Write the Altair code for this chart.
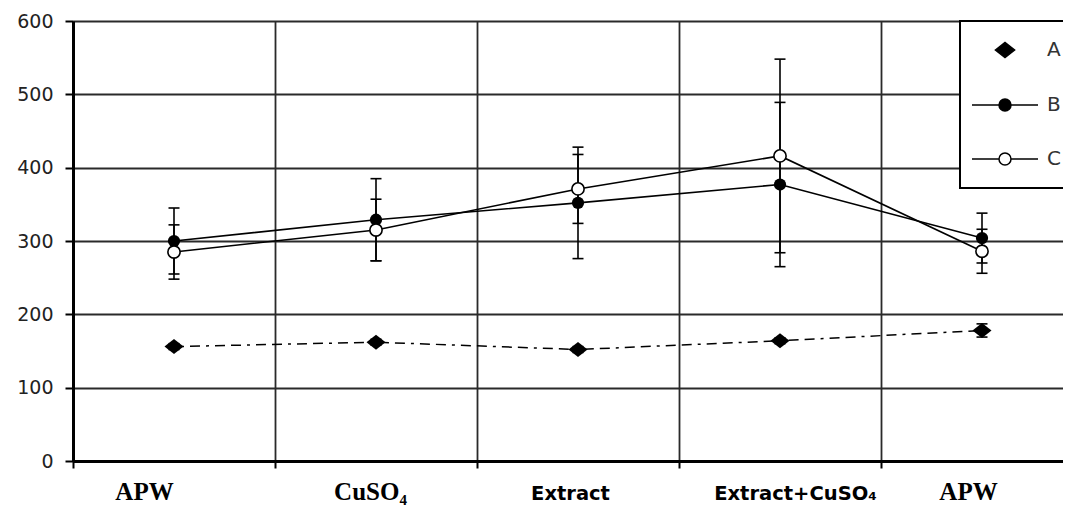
import altair as alt
import pandas as pd

# ---- data ----
categories = ["APW", "CuSO₄", "Extract", "Extract+CuSO₄", "APW"]
series_names = ["A", "B", "C"]
a_values = [156, 162, 152, 164, 178]
a_errors = [4, 4, 4, 4, 9]
b_values = [300, 329, 352, 377, 304]
b_errors = [45, 56, 76, 112, 34]
c_values = [285, 315, 371, 416, 286]
c_errors = [37, 42, 47, 132, 30]
y_ticks = [0, 100, 200, 300, 400, 500, 600]

rows = []
for name, vals, errs in zip(series_names, [a_values, b_values, c_values],
                            [a_errors, b_errors, c_errors]):
    for i, (v, e) in enumerate(zip(vals, errs)):
        rows.append({"series": name, "pos": i, "value": v, "lo": v - e, "hi": v + e})
df = pd.DataFrame(rows)

label_list = "[" + ",".join("'" + c + "'" for c in categories) + "]"
sans_test = "(toNumber(datum.value) == 2 || toNumber(datum.value) == 3)"

x_scale = alt.Scale(domain=list(range(len(categories))), range=[0, 1010],
                    paddingInner=0, paddingOuter=0)
x_axis = alt.Axis(
    title=None, tickBand="extent", grid=True, gridColor="#2a2a2a", gridWidth=1.8,
    domainColor="black", domainWidth=3, tickColor="black", tickWidth=2, tickSize=7,
    labelExpr=label_list + "[toNumber(datum.value)]",
    labelAngle=0, labelAlign="center", labelBaseline="alphabetic",
    labelPadding=31, labelColor="black", labelFontWeight="bold",
    labelFont={"expr": sans_test + " ? 'DejaVu Sans' : 'Liberation Serif'"},
    labelFontSize={"expr": sans_test + " ? 19.5 : 25"},
    labelOffset={"expr": "[-30, -6, -8, 15, -14][toNumber(datum.value)]"},
)
y_scale = alt.Scale(domain=[0, 600], nice=False, zero=True)
y_axis = alt.Axis(
    title=None, values=y_ticks, grid=True, gridColor="#2a2a2a", gridWidth=1.8,
    domainColor="black", domainWidth=3, tickColor="black", tickWidth=2, tickSize=8,
    labelFont="DejaVu Sans", labelFontSize=19, labelColor="#222", labelPadding=12,
)

X = alt.X("pos:O", scale=x_scale, axis=x_axis)

base = alt.Chart(df)

lines_bc = base.transform_filter("datum.series != 'A'").mark_line(
    color="black", strokeWidth=1.6
).encode(x=X, y=alt.Y("value:Q", scale=y_scale, axis=y_axis), detail="series:N")

line_a = base.transform_filter("datum.series == 'A'").mark_line(
    color="black", strokeWidth=1.5, strokeDash=[10, 6, 10, 6, 3, 6]
).encode(x=X, y=alt.Y("value:Q", scale=y_scale, axis=y_axis))

err_rule = base.mark_rule(color="black", strokeWidth=1.6).encode(
    x=X, y=alt.Y("lo:Q", scale=y_scale, axis=y_axis), y2="hi:Q"
)
cap_lo = base.mark_tick(color="black", size=11, thickness=1.6, opacity=1).encode(
    x=X, y=alt.Y("lo:Q", scale=y_scale, axis=y_axis)
)
cap_hi = base.mark_tick(color="black", size=11, thickness=1.6, opacity=1).encode(
    x=X, y=alt.Y("hi:Q", scale=y_scale, axis=y_axis)
)

diamond_path = "M-1.27,0L0,-1L1.27,0L0,1Z"
pts_a = base.transform_filter("datum.series == 'A'").mark_point(
    shape=diamond_path, filled=True, size=225, color="black", opacity=1
).encode(x=X, y=alt.Y("value:Q", scale=y_scale, axis=y_axis))
pts_b = base.transform_filter("datum.series == 'B'").mark_point(
    shape="circle", filled=True, size=150, color="black", opacity=1
).encode(x=X, y=alt.Y("value:Q", scale=y_scale, axis=y_axis))
pts_c = base.transform_filter("datum.series == 'C'").mark_point(
    shape="circle", filled=True, size=150, fill="white", stroke="black",
    strokeWidth=1.6, opacity=1
).encode(x=X, y=alt.Y("value:Q", scale=y_scale, axis=y_axis))

# legend-only layer (no visible data)
legend_diamond = "M-1.6,0L0,-1.25L1.6,0L0,1.25Z"
legend_line_circle = "M-5.5,0L-1,0M1,0L5.5,0M-1,0A1,1,0,1,1,1,0A1,1,0,1,1,-1,0Z"
leg = alt.Legend(
    title=None, orient="none", legendX=887, legendY=0,
    fillColor="white", strokeColor="black", padding=19,
    symbolOffset=16, labelOffset=32, rowPadding=34, symbolSize=144,
    symbolStrokeColor="black", symbolStrokeWidth=1.5, symbolOpacity=1,
    labelFont="DejaVu Sans", labelFontSize=20, labelColor="#333",
    labelExpr="datum.label + '\u00a0\u00a0\u00a0\u00a0\u00a0\u00a0\u00a0\u00a0'",
)
legend_layer = base.transform_filter("false").mark_point(
    filled=True, opacity=1, strokeWidth=1.5
).encode(
    x=X, y=alt.Y("value:Q", scale=y_scale, axis=y_axis),
    shape=alt.Shape("series:N", scale=alt.Scale(
        domain=series_names, range=[legend_diamond, legend_line_circle, legend_line_circle]),
        legend=leg),
    fill=alt.Fill("series:N", scale=alt.Scale(
        domain=series_names, range=["black", "black", "white"]), legend=leg),
    stroke=alt.Stroke("series:N", scale=alt.Scale(
        domain=series_names, range=["black", "black", "black"]), legend=leg),
)

chart = alt.layer(
    lines_bc, line_a, err_rule, cap_lo, cap_hi, pts_a, pts_b, pts_c, legend_layer
).properties(
    width=990, height=440, autosize="none",
    padding={"left": 65, "top": 13, "right": 0, "bottom": 44},
    background="white",
).configure_view(stroke=None).configure_legend(strokeWidth=2)

chart.save("out.html", embed_options={"renderer": "svg", "actions": False})
